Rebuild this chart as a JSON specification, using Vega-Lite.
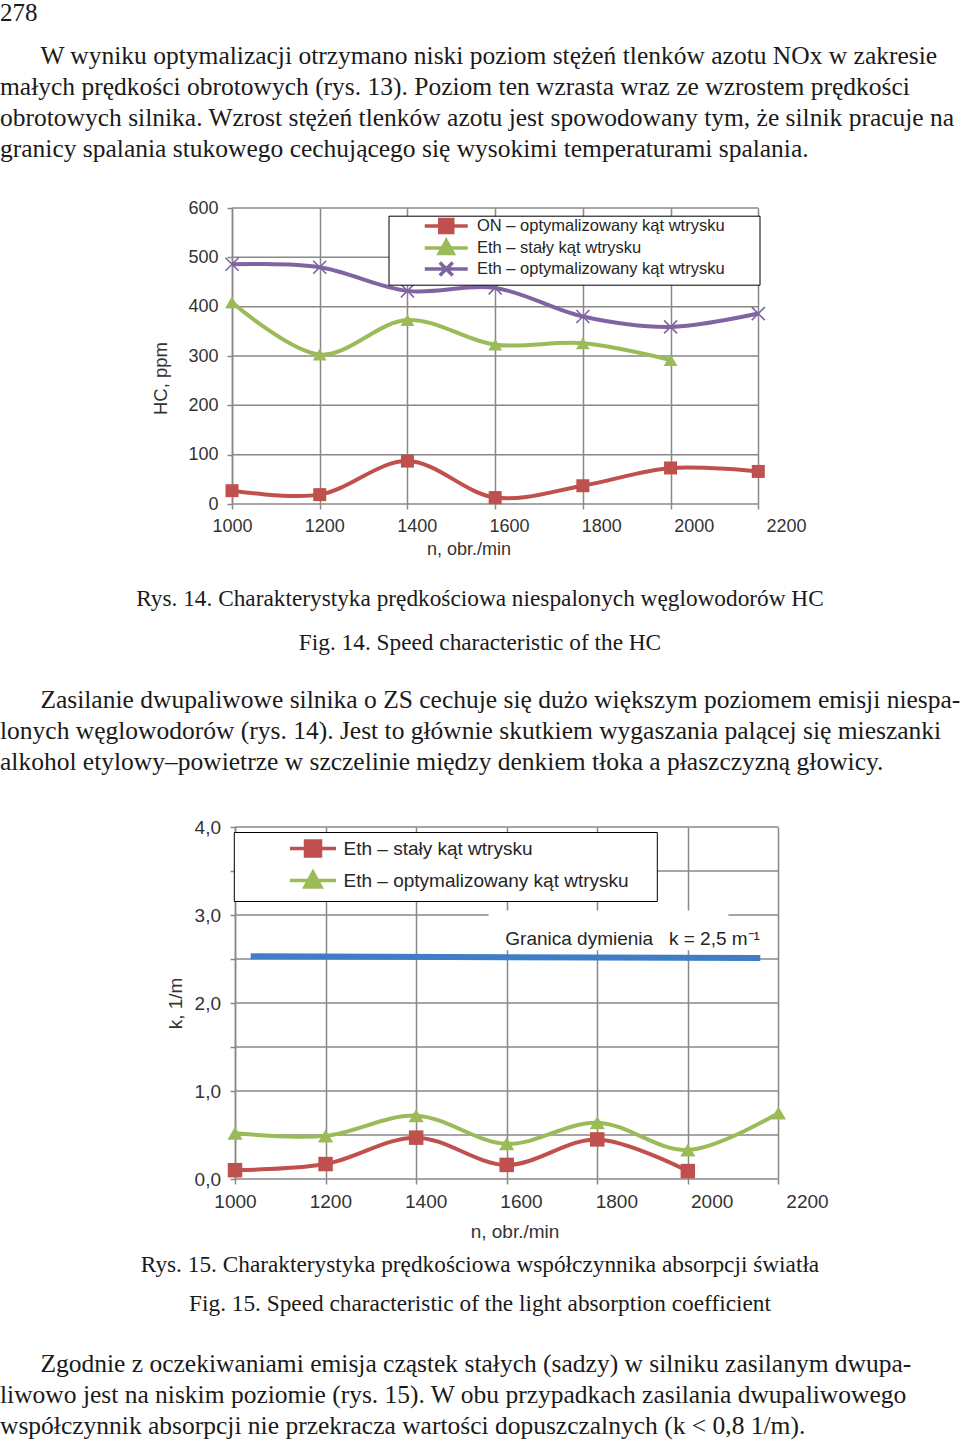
{
  "$schema": "https://vega.github.io/schema/vega-lite/v6.json",
  "padding": 0,
  "background": "#ffffff",
  "spacing": 0,
  "config": {"view": {"stroke": null}, "concat": {"spacing": 0}},
  "resolve": {
    "scale": {"color": "independent", "shape": "independent", "stroke": "independent"},
    "legend": {"color": "independent", "shape": "independent", "stroke": "independent"}
  },
  "datasets": {
    "hc": [
      {"n": 1000, "v": 27, "s": "ON – optymalizowany kąt wtrysku"},
      {"n": 1190, "v": 19, "s": "ON – optymalizowany kąt wtrysku"},
      {"n": 1380, "v": 87, "s": "ON – optymalizowany kąt wtrysku"},
      {"n": 1570, "v": 13, "s": "ON – optymalizowany kąt wtrysku"},
      {"n": 1760, "v": 37, "s": "ON – optymalizowany kąt wtrysku"},
      {"n": 1950, "v": 73, "s": "ON – optymalizowany kąt wtrysku"},
      {"n": 2140, "v": 66, "s": "ON – optymalizowany kąt wtrysku"},
      {"n": 1000, "v": 409, "s": "Eth – stały kąt wtrysku"},
      {"n": 1190, "v": 303, "s": "Eth – stały kąt wtrysku"},
      {"n": 1380, "v": 373, "s": "Eth – stały kąt wtrysku"},
      {"n": 1570, "v": 323, "s": "Eth – stały kąt wtrysku"},
      {"n": 1760, "v": 326, "s": "Eth – stały kąt wtrysku"},
      {"n": 1950, "v": 292, "s": "Eth – stały kąt wtrysku"},
      {"n": 1000, "v": 486, "s": "Eth – optymalizowany kąt wtrysku"},
      {"n": 1190, "v": 480, "s": "Eth – optymalizowany kąt wtrysku"},
      {"n": 1380, "v": 432, "s": "Eth – optymalizowany kąt wtrysku"},
      {"n": 1570, "v": 438, "s": "Eth – optymalizowany kąt wtrysku"},
      {"n": 1760, "v": 380, "s": "Eth – optymalizowany kąt wtrysku"},
      {"n": 1950, "v": 359, "s": "Eth – optymalizowany kąt wtrysku"},
      {"n": 2140, "v": 386, "s": "Eth – optymalizowany kąt wtrysku"}
    ],
    "hcGrid": [{"v": 0}, {"v": 100}, {"v": 200}, {"v": 300}, {"v": 400}, {"v": 500}, {"v": 600}],
    "k": [
      {"n": 1000, "v": 0.10, "s": "Eth – stały kąt wtrysku"},
      {"n": 1190, "v": 0.17, "s": "Eth – stały kąt wtrysku"},
      {"n": 1380, "v": 0.47, "s": "Eth – stały kąt wtrysku"},
      {"n": 1570, "v": 0.16, "s": "Eth – stały kąt wtrysku"},
      {"n": 1760, "v": 0.45, "s": "Eth – stały kąt wtrysku"},
      {"n": 1950, "v": 0.09, "s": "Eth – stały kąt wtrysku"},
      {"n": 1000, "v": 0.52, "s": "Eth – optymalizowany kąt wtrysku"},
      {"n": 1190, "v": 0.49, "s": "Eth – optymalizowany kąt wtrysku"},
      {"n": 1380, "v": 0.72, "s": "Eth – optymalizowany kąt wtrysku"},
      {"n": 1570, "v": 0.40, "s": "Eth – optymalizowany kąt wtrysku"},
      {"n": 1760, "v": 0.64, "s": "Eth – optymalizowany kąt wtrysku"},
      {"n": 1950, "v": 0.33, "s": "Eth – optymalizowany kąt wtrysku"},
      {"n": 2140, "v": 0.75, "s": "Eth – optymalizowany kąt wtrysku"}
    ],
    "kGrid": [{"v": 0}, {"v": 0.5}, {"v": 1}, {"v": 1.5}, {"v": 2}, {"v": 2.5}, {"v": 3}, {"v": 3.5}, {"v": 4}],
    "kMask": [{"n": 1532, "n2": 2035, "v": 2.6, "v2": 3.05}],
    "kLimit": [{"n": 1033, "v": 2.53}, {"n": 2102, "v": 2.51}],
    "kNote": [{"n": 1567, "v": 2.664, "label": "Granica dymienia\u00a0\u00a0 k = 2,5 m\u207b\u00b9"}]
  },
  "vconcat": [
    {
      "width": 960,
      "height": 26,
      "data": {"values": [{"line": 1, "text": "278"}]},
      "mark": {"type": "text", "align": "left", "baseline": "alphabetic", "font": "Liberation Serif", "fontSize": 25, "color": "#1a1a1a"},
      "encoding": {
        "x": {"value": 0},
        "y": {"field": "line", "type": "quantitative", "scale": {"domain": [0.204, 1.204], "nice": false, "zero": false, "reverse": true}, "axis": null},
        "text": {"field": "text"}
      }
    },
    {
      "width": 960,
      "height": 172.3,
      "data": {"values": [
        {"line": 1, "text": "\u200b\u2003\u2002\u200aW wyniku optymalizacji otrzymano niski poziom stężeń tlenków azotu NOx w zakresie"},
        {"line": 2, "text": "małych prędkości obrotowych (rys. 13). Poziom ten wzrasta wraz ze wzrostem prędkości"},
        {"line": 3, "text": "obrotowych silnika. Wzrost stężeń tlenków azotu jest spowodowany tym, że silnik pracuje na"},
        {"line": 4, "text": "granicy spalania stukowego cechującego się wysokimi temperaturami spalania."}
      ]},
      "mark": {"type": "text", "align": "left", "baseline": "alphabetic", "font": "Liberation Serif", "fontSize": 25.5, "color": "#1a1a1a"},
      "encoding": {
        "x": {"value": 0},
        "y": {"field": "line", "type": "quantitative", "scale": {"domain": [-0.2258, 5.3323], "nice": false, "zero": false, "reverse": true}, "axis": null},
        "text": {"field": "text"}
      }
    },
    {
      "spacing": 0,
      "resolve": {
        "scale": {"color": "independent", "shape": "independent", "stroke": "independent"},
        "legend": {"color": "independent", "shape": "independent", "stroke": "independent"}
      },
      "hconcat": [
        {"width": 151, "height": 361, "data": {"values": []}, "mark": "text"},
        {
          "width": 554,
          "height": 296,
          "encoding": {
            "y": {
              "field": "v", "type": "quantitative",
              "scale": {"domain": [0, 600], "nice": false},
              "axis": {
                "values": [0, 100, 200, 300, 400, 500, 600], "grid": false,
                "domainColor": "#888888", "domainWidth": 1.5,
                "tickColor": "#888888", "tickWidth": 1.5, "tickSize": 5,
                "labelFont": "Liberation Sans", "labelFontSize": 18, "labelColor": "#333333", "labelPadding": 9,
                "title": "HC, ppm", "titleFont": "Liberation Sans", "titleFontSize": 18.5, "titleFontWeight": "normal",
                "titleColor": "#333333", "titlePadding": 17, "titleY": 170
              }
            }
          },
          "layer": [
            {
              "data": {"name": "hcGrid"},
              "mark": {"type": "rule", "color": "#888888", "strokeWidth": 1.5},
              "encoding": {
                "x": {
                  "datum": 1000, "type": "quantitative",
                  "scale": {"domain": [1000, 2200], "nice": false, "zero": false},
                  "axis": {
                    "orient": "bottom", "values": [1000, 1200, 1400, 1600, 1800, 2000, 2200], "format": "d",
                    "grid": false, "ticks": false, "domain": false, "labelFlush": false, "labelOverlap": false,
                    "labelFont": "Liberation Sans", "labelFontSize": 18, "labelColor": "#333333", "labelPadding": 13,
                    "title": "n, obr./min", "titleFont": "Liberation Sans", "titleFontSize": 18, "titleFontWeight": "normal",
                    "titleColor": "#333333", "titlePadding": 5, "titleX": 236.5
                  }
                },
                "x2": {"datum": 2140}
              }
            },
            {
              "data": {"name": "hc"},
              "mark": {"type": "line", "interpolate": "catmull-rom", "strokeWidth": 4},
              "encoding": {
                "x": {
                  "field": "n", "type": "quantitative",
                  "scale": {"domain": [1000, 2200], "nice": false, "zero": false},
                  "axis": {
                    "orient": "bottom", "values": [1000, 1190, 1380, 1570, 1760, 1950, 2140], "labels": false,
                    "grid": true, "gridColor": "#888888", "gridWidth": 1.5,
                    "ticks": true, "tickSize": 5, "tickColor": "#888888", "tickWidth": 1.5, "domain": false, "title": null
                  }
                },
                "color": {
                  "field": "s", "type": "nominal",
                  "scale": {"domain": ["ON – optymalizowany kąt wtrysku", "Eth – stały kąt wtrysku", "Eth – optymalizowany kąt wtrysku"], "range": ["#c0504d", "#9bbb59", "#8064a2"]},
                  "legend": {
                    "orient": "none", "legendX": 156.5, "legendY": 7.7, "title": null,
                    "padding": 2, "rowPadding": -6.5, "labelOffset": 70, "labelLimit": 600,
                    "labelFont": "Liberation Sans", "labelFontSize": 16.5, "labelColor": "#262626",
                    "symbolSize": 16, "symbolStrokeWidth": 3.5, "symbolOpacity": 1,
                    "strokeColor": "#000000", "fillColor": "#ffffff",
                    "labelExpr": "datum.label + '\u00a0\u00a0\u00a0\u00a0\u00a0\u00a0\u00a0\u200b'"
                  }
                }
              }
            },
            {
              "data": {"values": []},
              "mark": {"type": "point", "filled": true, "opacity": 1},
              "encoding": {
                "x": {"field": "n", "type": "quantitative", "scale": {"domain": [1000, 2200], "nice": false, "zero": false}, "axis": null},
                "color": {
                  "field": "s", "type": "nominal",
                  "scale": {"domain": ["ON – optymalizowany kąt wtrysku", "Eth – stały kąt wtrysku", "Eth – optymalizowany kąt wtrysku"], "range": ["#c0504d", "#9bbb59", "#8064a2"]},
                  "legend": {
                    "orient": "none", "legendX": 156.5, "legendY": 7.7, "title": null,
                    "padding": 2, "rowPadding": -6.5, "labelOffset": 70, "labelLimit": 600,
                    "labelFont": "Liberation Sans", "labelFontSize": 16.5, "labelColor": "#262626",
                    "symbolSize": 16, "symbolStrokeWidth": 3.5, "symbolOpacity": 1,
                    "strokeColor": "#000000", "fillColor": "#ffffff",
                    "labelExpr": "datum.label + '\u00a0\u00a0\u00a0\u00a0\u00a0\u00a0\u00a0\u200b'"
                  }
                },
                "shape": {
                  "field": "s", "type": "nominal",
                  "scale": {"domain": ["ON – optymalizowany kąt wtrysku", "Eth – stały kąt wtrysku", "Eth – optymalizowany kąt wtrysku"], "range": [
                    "M13,0L34.5,0M20.5,-3.25L27,-3.25L27,3.25L20.5,3.25Z",
                    "M13,0L34.5,0M20.25,2.8L23.75,-3.6L27.25,2.8Z",
                    "M13,0L34.5,0M20.5,-3.25L27,3.25M20.5,3.25L27,-3.25"
                  ]},
                  "legend": {
                    "orient": "none", "legendX": 156.5, "legendY": 7.7, "title": null,
                    "padding": 2, "rowPadding": -6.5, "labelOffset": 70, "labelLimit": 600,
                    "labelFont": "Liberation Sans", "labelFontSize": 16.5, "labelColor": "#262626",
                    "symbolSize": 16, "symbolStrokeWidth": 3.5, "symbolOpacity": 1,
                    "strokeColor": "#000000", "fillColor": "#ffffff",
                    "labelExpr": "datum.label + '\u00a0\u00a0\u00a0\u00a0\u00a0\u00a0\u00a0\u200b'"
                  }
                },
                "stroke": {
                  "field": "s", "type": "nominal",
                  "scale": {"domain": ["ON – optymalizowany kąt wtrysku", "Eth – stały kąt wtrysku", "Eth – optymalizowany kąt wtrysku"], "range": ["#c0504d", "#9bbb59", "#8064a2"]},
                  "legend": {
                    "orient": "none", "legendX": 156.5, "legendY": 7.7, "title": null,
                    "padding": 2, "rowPadding": -6.5, "labelOffset": 70, "labelLimit": 600,
                    "labelFont": "Liberation Sans", "labelFontSize": 16.5, "labelColor": "#262626",
                    "symbolSize": 16, "symbolStrokeWidth": 3.5, "symbolOpacity": 1,
                    "strokeColor": "#000000", "fillColor": "#ffffff",
                    "labelExpr": "datum.label + '\u00a0\u00a0\u00a0\u00a0\u00a0\u00a0\u00a0\u200b'"
                  }
                }
              }
            },
            {
              "data": {"name": "hc"},
              "transform": [{"filter": "datum.s === 'ON – optymalizowany kąt wtrysku'"}],
              "mark": {"type": "point", "shape": "square", "filled": true, "opacity": 1, "size": 169, "color": "#c0504d"},
              "encoding": {"x": {"field": "n", "type": "quantitative", "scale": {"domain": [1000, 2200], "nice": false, "zero": false}, "axis": null}}
            },
            {
              "data": {"name": "hc"},
              "transform": [{"filter": "datum.s === 'Eth – stały kąt wtrysku'"}],
              "mark": {"type": "point", "shape": "triangle-up", "filled": true, "opacity": 1, "size": 190, "color": "#9bbb59"},
              "encoding": {"x": {"field": "n", "type": "quantitative", "scale": {"domain": [1000, 2200], "nice": false, "zero": false}, "axis": null}}
            },
            {
              "data": {"name": "hc"},
              "transform": [{"filter": "datum.s === 'Eth – optymalizowany kąt wtrysku'"}],
              "mark": {"type": "point", "shape": "M-1,-1L1,1M-1,1L1,-1", "filled": false, "opacity": 1, "size": 169, "strokeWidth": 1.6, "color": "#8064a2"},
              "encoding": {"x": {"field": "n", "type": "quantitative", "scale": {"domain": [1000, 2200], "nice": false, "zero": false}, "axis": null}}
            }
          ],
          "resolve": {"axis": {"x": "independent"}}
        }
      ]
    },
    {
      "width": 960,
      "height": 103.7,
      "data": {"values": [
        {"line": 1, "text": "Rys. 14. Charakterystyka prędkościowa niespalonych węglowodorów HC"},
        {"line": 2, "text": "Fig. 14. Speed characteristic of the HC"}
      ]},
      "mark": {"type": "text", "align": "center", "baseline": "alphabetic", "font": "Liberation Serif", "fontSize": 23.3, "color": "#1a1a1a"},
      "encoding": {
        "y": {"field": "line", "type": "quantitative", "scale": {"domain": [0.1659, 2.5227], "nice": false, "zero": false, "reverse": true}, "axis": null},
        "text": {"field": "text"}
      }
    },
    {
      "width": 960,
      "height": 144.2,
      "data": {"values": [
        {"line": 1, "text": "\u200b\u2003\u2002\u200aZasilanie dwupaliwowe silnika o ZS cechuje się dużo większym poziomem emisji niespa-"},
        {"line": 2, "text": "lonych węglowodorów (rys. 14). Jest to głównie skutkiem wygaszania palącej się mieszanki"},
        {"line": 3, "text": "alkohol etylowy–powietrze w szczelinie między denkiem tłoka a płaszczyzną głowicy."}
      ]},
      "mark": {"type": "text", "align": "left", "baseline": "alphabetic", "font": "Liberation Serif", "fontSize": 25.5, "color": "#1a1a1a"},
      "encoding": {
        "x": {"value": 0},
        "y": {"field": "line", "type": "quantitative", "scale": {"domain": [-0.129, 4.5226], "nice": false, "zero": false, "reverse": true}, "axis": null},
        "text": {"field": "text"}
      }
    },
    {
      "spacing": 0,
      "resolve": {
        "scale": {"color": "independent", "shape": "independent", "stroke": "independent"},
        "legend": {"color": "independent", "shape": "independent", "stroke": "independent"}
      },
      "hconcat": [
        {"width": 165.6, "height": 414.5, "data": {"values": []}, "mark": "text"},
        {
          "width": 572,
          "height": 352,
          "encoding": {
            "y": {
              "field": "v", "type": "quantitative",
              "scale": {"domain": [0, 4], "nice": false},
              "axis": {
                "values": [0, 0.5, 1, 1.5, 2, 2.5, 3, 3.5, 4], "grid": false,
                "labelExpr": "datum.value % 1 === 0 ? replace(format(datum.value, '.1f'), '.', ',') : ''",
                "domainColor": "#888888", "domainWidth": 1.5,
                "tickColor": "#888888", "tickWidth": 1.5, "tickSize": 5,
                "labelFont": "Liberation Sans", "labelFontSize": 19, "labelColor": "#333333", "labelPadding": 9.5,
                "title": "k, 1/m", "titleFont": "Liberation Sans", "titleFontSize": 19, "titleFontWeight": "normal",
                "titleColor": "#333333", "titlePadding": 9
              }
            }
          },
          "layer": [
            {
              "data": {"name": "kGrid"},
              "mark": {"type": "rule", "color": "#888888", "strokeWidth": 1.5},
              "encoding": {
                "x": {
                  "datum": 1000, "type": "quantitative",
                  "scale": {"domain": [1000, 2200], "nice": false, "zero": false},
                  "axis": {
                    "orient": "bottom", "values": [1000, 1200, 1400, 1600, 1800, 2000, 2200], "format": "d",
                    "grid": false, "ticks": false, "domain": false, "labelFlush": false, "labelOverlap": false,
                    "labelFont": "Liberation Sans", "labelFontSize": 19, "labelColor": "#333333", "labelPadding": 13,
                    "title": "n, obr./min", "titleFont": "Liberation Sans", "titleFontSize": 19, "titleFontWeight": "normal",
                    "titleColor": "#333333", "titlePadding": 11, "titleX": 279.5
                  }
                },
                "x2": {"datum": 2140}
              }
            },
            {
              "data": {"name": "kMask"},
              "mark": {"type": "rect", "color": "#ffffff"},
              "encoding": {
                "x": {"field": "n", "type": "quantitative", "scale": {"domain": [1000, 2200], "nice": false, "zero": false}, "axis": null},
                "x2": {"field": "n2"},
                "y2": {"field": "v2"}
              }
            },
            {
              "data": {"name": "kLimit"},
              "mark": {"type": "line", "color": "#3f7ec6", "strokeWidth": 6},
              "encoding": {
                "x": {"field": "n", "type": "quantitative", "scale": {"domain": [1000, 2200], "nice": false, "zero": false}, "axis": null}
              }
            },
            {
              "data": {"name": "kNote"},
              "mark": {"type": "text", "align": "left", "baseline": "alphabetic", "font": "Liberation Sans", "fontSize": 19, "color": "#262626"},
              "encoding": {
                "x": {"field": "n", "type": "quantitative", "scale": {"domain": [1000, 2200], "nice": false, "zero": false}, "axis": null},
                "text": {"field": "label"}
              }
            },
            {
              "data": {"name": "k"},
              "mark": {"type": "line", "interpolate": "catmull-rom", "strokeWidth": 4},
              "encoding": {
                "x": {
                  "field": "n", "type": "quantitative",
                  "scale": {"domain": [1000, 2200], "nice": false, "zero": false},
                  "axis": {
                    "orient": "bottom", "values": [1000, 1190, 1380, 1570, 1760, 1950, 2140], "labels": false,
                    "grid": true, "gridColor": "#888888", "gridWidth": 1.5,
                    "ticks": true, "tickSize": 5, "tickColor": "#888888", "tickWidth": 1.5, "domain": false, "title": null
                  }
                },
                "color": {
                  "field": "s", "type": "nominal",
                  "scale": {"domain": ["Eth – stały kąt wtrysku", "Eth – optymalizowany kąt wtrysku"], "range": ["#c0504d", "#9bbb59"]},
                  "legend": {
                    "orient": "none", "legendX": -1.2, "legendY": 5, "title": null,
                    "padding": 7, "rowPadding": 2, "labelOffset": 83.7, "labelLimit": 600,
                    "labelFont": "Liberation Sans", "labelFontSize": 19, "labelColor": "#262626",
                    "symbolSize": 16, "symbolStrokeWidth": 3.5, "symbolOpacity": 1,
                    "strokeColor": "#000000", "fillColor": "#ffffff",
                    "labelExpr": "datum.label + '\u00a0\u00a0\u00a0\u00a0\u200b'"
                  }
                }
              }
            },
            {
              "data": {"values": []},
              "mark": {"type": "point", "filled": true, "opacity": 1},
              "encoding": {
                "x": {"field": "n", "type": "quantitative", "scale": {"domain": [1000, 2200], "nice": false, "zero": false}, "axis": null},
                "color": {
                  "field": "s", "type": "nominal",
                  "scale": {"domain": ["Eth – stały kąt wtrysku", "Eth – optymalizowany kąt wtrysku"], "range": ["#c0504d", "#9bbb59"]},
                  "legend": {
                    "orient": "none", "legendX": -1.2, "legendY": 5, "title": null,
                    "padding": 7, "rowPadding": 2, "labelOffset": 83.7, "labelLimit": 600,
                    "labelFont": "Liberation Sans", "labelFontSize": 19, "labelColor": "#262626",
                    "symbolSize": 16, "symbolStrokeWidth": 3.5, "symbolOpacity": 1,
                    "strokeColor": "#000000", "fillColor": "#ffffff",
                    "labelExpr": "datum.label + '\u00a0\u00a0\u00a0\u00a0\u200b'"
                  }
                },
                "shape": {
                  "field": "s", "type": "nominal",
                  "scale": {"domain": ["Eth – stały kąt wtrysku", "Eth – optymalizowany kąt wtrysku"], "range": [
                    "M19.85,0L42.85,0M27.6,-3.75L35.1,-3.75L35.1,3.75L27.6,3.75Z",
                    "M19.85,0L42.85,0M27.35,3.2L31.35,-4.2L35.35,3.2Z"
                  ]},
                  "legend": {
                    "orient": "none", "legendX": -1.2, "legendY": 5, "title": null,
                    "padding": 7, "rowPadding": 2, "labelOffset": 83.7, "labelLimit": 600,
                    "labelFont": "Liberation Sans", "labelFontSize": 19, "labelColor": "#262626",
                    "symbolSize": 16, "symbolStrokeWidth": 3.5, "symbolOpacity": 1,
                    "strokeColor": "#000000", "fillColor": "#ffffff",
                    "labelExpr": "datum.label + '\u00a0\u00a0\u00a0\u00a0\u200b'"
                  }
                },
                "stroke": {
                  "field": "s", "type": "nominal",
                  "scale": {"domain": ["Eth – stały kąt wtrysku", "Eth – optymalizowany kąt wtrysku"], "range": ["#c0504d", "#9bbb59"]},
                  "legend": {
                    "orient": "none", "legendX": -1.2, "legendY": 5, "title": null,
                    "padding": 7, "rowPadding": 2, "labelOffset": 83.7, "labelLimit": 600,
                    "labelFont": "Liberation Sans", "labelFontSize": 19, "labelColor": "#262626",
                    "symbolSize": 16, "symbolStrokeWidth": 3.5, "symbolOpacity": 1,
                    "strokeColor": "#000000", "fillColor": "#ffffff",
                    "labelExpr": "datum.label + '\u00a0\u00a0\u00a0\u00a0\u200b'"
                  }
                }
              }
            },
            {
              "data": {"name": "k"},
              "transform": [{"filter": "datum.s === 'Eth – stały kąt wtrysku'"}],
              "mark": {"type": "point", "shape": "square", "filled": true, "opacity": 1, "size": 210, "color": "#c0504d"},
              "encoding": {"x": {"field": "n", "type": "quantitative", "scale": {"domain": [1000, 2200], "nice": false, "zero": false}, "axis": null}}
            },
            {
              "data": {"name": "k"},
              "transform": [{"filter": "datum.s === 'Eth – optymalizowany kąt wtrysku'"}],
              "mark": {"type": "point", "shape": "triangle-up", "filled": true, "opacity": 1, "size": 230, "color": "#9bbb59"},
              "encoding": {"x": {"field": "n", "type": "quantitative", "scale": {"domain": [1000, 2200], "nice": false, "zero": false}, "axis": null}}
            }
          ],
          "resolve": {"axis": {"x": "independent"}}
        }
      ]
    },
    {
      "width": 960,
      "height": 89.8,
      "data": {"values": [
        {"line": 1, "text": "Rys. 15. Charakterystyka prędkościowa współczynnika absorpcji światła"},
        {"line": 2, "text": "Fig. 15. Speed characteristic of the light absorption coefficient"}
      ]},
      "mark": {"type": "text", "align": "center", "baseline": "alphabetic", "font": "Liberation Serif", "fontSize": 23.3, "color": "#1a1a1a"},
      "encoding": {
        "y": {"field": "line", "type": "quantitative", "scale": {"domain": [0.2359, 2.5385], "nice": false, "zero": false, "reverse": true}, "axis": null},
        "text": {"field": "text"}
      }
    },
    {
      "width": 960,
      "height": 112,
      "data": {"values": [
        {"line": 1, "text": "\u200b\u2003\u2002\u200aZgodnie z oczekiwaniami emisja cząstek stałych (sadzy) w silniku zasilanym dwupa-"},
        {"line": 2, "text": "liwowo jest na niskim poziomie (rys. 15). W obu przypadkach zasilania dwupaliwowego"},
        {"line": 3, "text": "współczynnik absorpcji nie przekracza wartości dopuszczalnych (k < 0,8 1/m)."}
      ]},
      "mark": {"type": "text", "align": "left", "baseline": "alphabetic", "font": "Liberation Serif", "fontSize": 25.5, "color": "#1a1a1a"},
      "encoding": {
        "x": {"value": 0},
        "y": {"field": "line", "type": "quantitative", "scale": {"domain": [-0.2903, 3.3226], "nice": false, "zero": false, "reverse": true}, "axis": null},
        "text": {"field": "text"}
      }
    }
  ]
}
